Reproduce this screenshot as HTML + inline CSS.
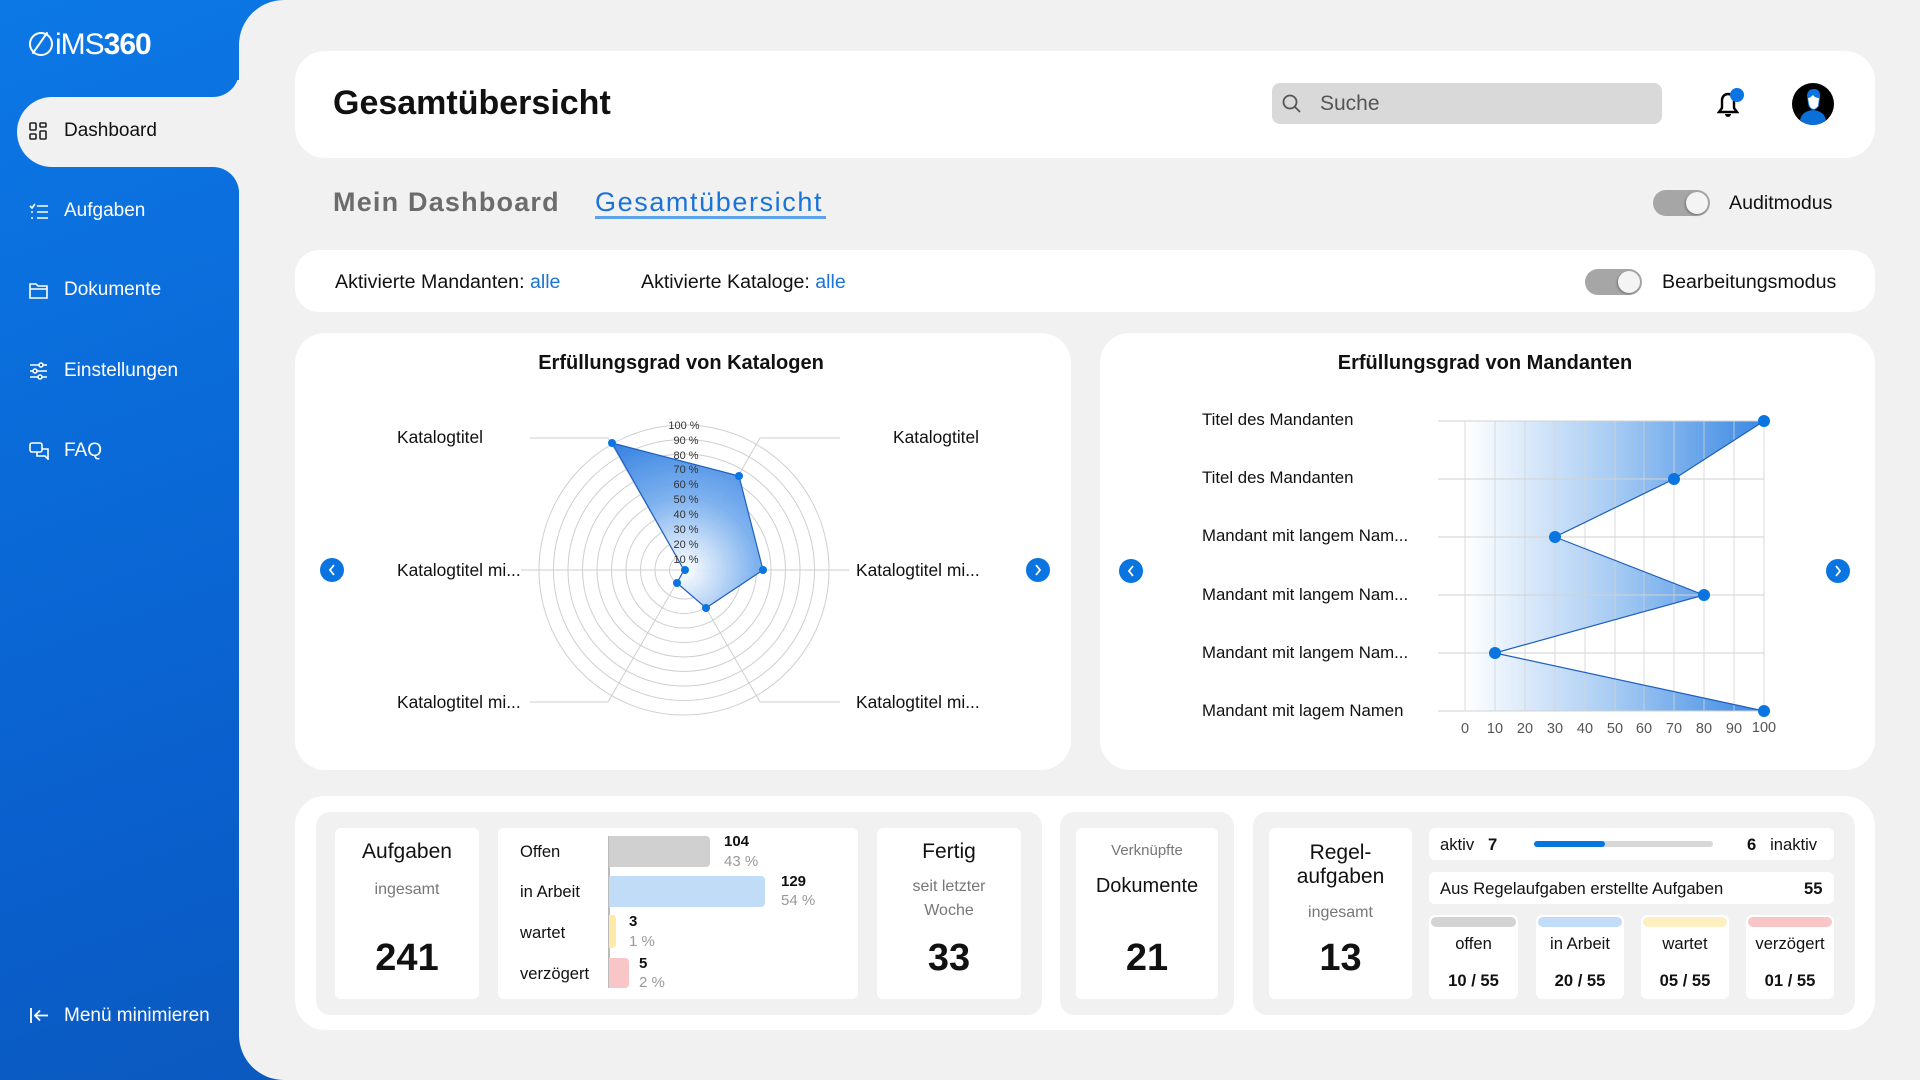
<!DOCTYPE html>
<html><head><meta charset="utf-8"><style>
*{margin:0;padding:0;box-sizing:border-box}
body{width:1920px;height:1080px;overflow:hidden;background:#f1f1f1;font-family:"Liberation Sans",sans-serif;position:relative;color:#111}
.a{position:absolute}
.blue{background:linear-gradient(160deg,#0b78e6 0%,#0a5fcc 50%,#0d4ea6 100%);background-attachment:fixed}
.card{position:absolute;background:#fff;border-radius:30px}
.nav{position:absolute;left:64px;color:#fff;font-size:19px;line-height:22px}
.ic{position:absolute;left:29px}
.t{position:absolute;white-space:nowrap}
.c{position:absolute;text-align:center;white-space:nowrap}
.wb{position:absolute;background:#fff;border-radius:6px}
.gb{position:absolute;background:#f1f1f1;border-radius:14px}
.tog{position:absolute;width:57px;height:26px;border-radius:13px;background:#a6a6a6}
.tog:after{content:"";position:absolute;right:2px;top:2px;width:22px;height:22px;border-radius:50%;background:#f4f4f4;box-shadow:-1px 1px 2px rgba(0,0,0,.3)}
</style></head><body>
<div class="a blue" style="left:0;top:0;width:300px;height:1080px"></div>
<div class="a" style="left:239px;top:0;width:1681px;height:1080px;background:#f1f1f1;border-top-left-radius:45px;border-bottom-left-radius:45px"></div>
<div class="a" style="left:200px;top:80px;width:60px;height:110px;background:#f1f1f1"></div>
<div class="a blue" style="left:0;top:0;width:239px;height:97px;border-bottom-right-radius:26px"></div>
<div class="a blue" style="left:0;top:167px;width:239px;height:913px;border-top-right-radius:26px"></div>
<div class="a" style="left:17px;top:97px;width:240px;height:70px;background:#f1f1f1;border-radius:35px 0 0 35px"></div>
<div class="t" style="left:29px;top:28px;color:#fff;font-size:30px;font-weight:bold;letter-spacing:-1px"><span style="display:inline-block;width:24px;height:24px;border:2.5px solid #fff;border-radius:50%;vertical-align:-2px;margin-right:2px;position:relative"><span style="position:absolute;left:8px;top:-4px;width:2px;height:26px;background:#fff;transform:rotate(35deg)"></span></span><span style="font-weight:normal">iMS</span>360</div>
<svg class="ic" style="top:122px" width="18" height="18" viewBox="0 0 18 18" fill="none" stroke="#222" stroke-width="1.6"><rect x="1" y="1" width="6" height="7" rx="1"/><rect x="11" y="1" width="6" height="4" rx="1"/><rect x="1" y="12" width="6" height="5" rx="1"/><rect x="11" y="9" width="6" height="8" rx="1"/></svg>
<div class="t" style="left:64px;top:120px;font-size:19px;color:#111">Dashboard</div>
<svg class="ic" style="top:203px" width="20" height="18" viewBox="0 0 20 18" fill="none" stroke="#fff" stroke-width="1.6"><path d="M1 3l2 2 3-4M8 3h11M8 9h11M8 15h11M2 9h2M2 15h2"/></svg>
<div class="nav" style="top:200px">Aufgaben</div>
<svg class="ic" style="top:282px" width="19" height="17" viewBox="0 0 19 17" fill="none" stroke="#fff" stroke-width="1.6"><path d="M1 2h6l2 2h9v12H1zM1 7h17"/></svg>
<div class="nav" style="top:279px">Dokumente</div>
<svg class="ic" style="top:362px" width="19" height="18" viewBox="0 0 19 18" fill="none" stroke="#fff" stroke-width="1.6"><path d="M1 3h17M1 9h17M1 15h17"/><circle cx="12" cy="3" r="2" fill="#0a5fcc"/><circle cx="6" cy="9" r="2" fill="#0a5fcc"/><circle cx="11" cy="15" r="2" fill="#0a5fcc"/></svg>
<div class="nav" style="top:360px">Einstellungen</div>
<svg class="ic" style="top:442px" width="21" height="18" viewBox="0 0 21 18" fill="none" stroke="#fff" stroke-width="1.6"><rect x="1" y="1" width="12" height="9" rx="2"/><path d="M8 10v4h8l3 3v-10h-6"/></svg>
<div class="nav" style="top:440px">FAQ</div>
<svg class="ic" style="top:1007px" width="20" height="17" viewBox="0 0 20 17" fill="none" stroke="#fff" stroke-width="1.8"><path d="M2 1v15M19 8.5H6M11 3.5l-5 5 5 5"/></svg>
<div class="nav" style="top:1005px">Menü minimieren</div>

<div class="card" style="left:295px;top:51px;width:1580px;height:107px"></div>
<div class="t" style="left:333px;top:84px;font-size:34px;font-weight:bold">Gesamtübersicht</div>
<div class="a" style="left:1272px;top:83px;width:390px;height:41px;background:#d9d9d9;border-radius:8px"></div>
<svg class="a" style="left:1282px;top:94px" width="20" height="20" viewBox="0 0 20 20" fill="none" stroke="#555" stroke-width="1.8"><circle cx="8" cy="8" r="6.5"/><path d="M13 13l5 5"/></svg>
<div class="t" style="left:1320px;top:92px;font-size:21px;color:#555">Suche</div>
<svg class="a" style="left:1711px;top:86px" width="36" height="36" viewBox="0 0 36 36"><path d="M8 26h18l-3-4v-8a6 6 0 0 0-12 0v8z" fill="none" stroke="#000" stroke-width="2.4"/><path d="M14 28a3 3 0 0 0 6 0z" fill="#000"/><circle cx="26" cy="9" r="7" fill="#0a74e0"/></svg>
<svg class="a" style="left:1792px;top:83px" width="42" height="42" viewBox="0 0 42 42"><circle cx="21" cy="21" r="21" fill="#000"/><path d="M8 37q2-9 13-10q11 1 13 10q-6 5-13 5q-7 0-13-5z" fill="#0a6fd8"/><path d="M15 12q1-6 7-6q7 0 6 9l-1 8q-3 4-6 4q-4-1-5-6z" fill="#0a74e0"/><path d="M16 15q2 0 5-3q2 3 6 3l-1 8q-2 3-5 3q-3-1-4-5z" fill="#fff"/></svg>

<div class="t" style="left:333px;top:187px;font-size:27px;color:#555;letter-spacing:1.2px;font-weight:bold;opacity:.85">Mein Dashboard</div>
<div class="t" style="left:595px;top:187px;font-size:27px;color:#1a73d9;letter-spacing:1.6px">Gesamtübersicht</div>
<div class="a" style="left:595px;top:216px;width:231px;height:3px;background:#5ea2ea"></div>
<div class="tog" style="left:1653px;top:190px"></div>
<div class="t" style="left:1729px;top:192px;font-size:19.6px">Auditmodus</div>

<div class="card" style="left:295px;top:250px;width:1580px;height:62px;border-radius:24px"></div>
<div class="t" style="left:335px;top:271px;font-size:19.6px">Aktivierte Mandanten: <span style="color:#1a73d9">alle</span></div>
<div class="t" style="left:641px;top:271px;font-size:19.6px">Aktivierte Kataloge: <span style="color:#1a73d9">alle</span></div>
<div class="tog" style="left:1585px;top:269px"></div>
<div class="t" style="left:1662px;top:271px;font-size:19.6px">Bearbeitungsmodus</div>

<div class="card" style="left:295px;top:333px;width:776px;height:437px"></div>
<div class="card" style="left:1100px;top:333px;width:775px;height:437px"></div>
<div class="c" style="left:481px;width:400px;top:352px;font-size:20px;font-weight:bold">Erfüllungsgrad von Katalogen</div>
<div class="c" style="left:1285px;width:400px;top:352px;font-size:20px;font-weight:bold">Erfüllungsgrad von Mandanten</div>

<svg class="a" style="left:0;top:0" width="1920" height="1080" font-family="Liberation Sans, sans-serif">
<defs>
<radialGradient id="rg" cx="684" cy="570" r="145" gradientUnits="userSpaceOnUse"><stop offset="0" stop-color="#fff"/><stop offset=".5" stop-color="#78aeee"/><stop offset="1" stop-color="#2a7ae0"/></radialGradient>
<linearGradient id="lg" x1="1465" y1="0" x2="1764" y2="0" gradientUnits="userSpaceOnUse"><stop offset="0" stop-color="#fff"/><stop offset=".5" stop-color="#a6cbf3"/><stop offset="1" stop-color="#3a88e3"/></linearGradient>
</defs>
<g fill="none" stroke="#cfcfcf" stroke-width="1">
<circle cx="684" cy="570" r="14.5"/><circle cx="684" cy="570" r="29"/><circle cx="684" cy="570" r="43.5"/><circle cx="684" cy="570" r="58"/><circle cx="684" cy="570" r="72.5"/><circle cx="684" cy="570" r="87"/><circle cx="684" cy="570" r="101.5"/><circle cx="684" cy="570" r="116"/><circle cx="684" cy="570" r="130.5"/><circle cx="684" cy="570" r="145"/>
<path d="M684 570L608 438H530M684 570L760 438H840M684 570H521M684 570H849M684 570L608 702H530M684 570L760 702H840"/>
</g>
<polygon points="612,443 739,476 763,570 706,608 677,583 684,570" fill="url(#rg)" fill-opacity=".95" stroke="#1f5fbf" stroke-width="1.2"/>
<g fill="#0a74e0"><circle cx="612" cy="443" r="4"/><circle cx="739" cy="476" r="4"/><circle cx="763" cy="570" r="4"/><circle cx="706" cy="608" r="4"/><circle cx="677" cy="583" r="4"/><circle cx="685" cy="570" r="4"/></g>
<g font-size="11" fill="#333" text-anchor="middle">
<text x="684" y="429">100 %</text><text x="686" y="444">90 %</text><text x="686" y="459">80 %</text><text x="686" y="473">70 %</text><text x="686" y="488">60 %</text><text x="686" y="503">50 %</text><text x="686" y="518">40 %</text><text x="686" y="533">30 %</text><text x="686" y="548">20 %</text><text x="686" y="563">10 %</text></g>
<g font-size="17.4" fill="#111">
<text x="397" y="443">Katalogtitel</text><text x="893" y="443">Katalogtitel</text>
<text x="397" y="576">Katalogtitel mi...</text><text x="856" y="576">Katalogtitel mi...</text>
<text x="397" y="708">Katalogtitel mi...</text><text x="856" y="708">Katalogtitel mi...</text></g>
<g><circle cx="332" cy="570" r="12" fill="#0a74e0"/><circle cx="1038" cy="570" r="12" fill="#0a74e0"/><circle cx="1131" cy="571" r="12" fill="#0a74e0"/><circle cx="1838" cy="571" r="12" fill="#0a74e0"/></g>
<g fill="none" stroke="#fff" stroke-width="1.8"><path d="M334 565l-4 5 4 5M1036 565l4 5-4 5M1133 566l-4 5 4 5M1836 566l4 5-4 5"/></g>
<polygon points="1465,421 1764,421 1674,479 1555,537 1704,595 1495,653 1764,711 1465,711" fill="url(#lg)"/>
<g stroke="#d2d2d2" stroke-width="1"><path d="M1438 421H1764M1438 479H1764M1438 537H1764M1438 595H1764M1438 653H1764M1438 711H1764"/>
<path d="M1465 421V711M1495 421V711M1525 421V711M1555 421V711M1585 421V711M1615 421V711M1644 421V711M1674 421V711M1704 421V711M1734 421V711M1764 421V711" stroke-opacity=".8"/></g>
<polyline points="1764,421 1674,479 1555,537 1704,595 1495,653 1764,711" fill="none" stroke="#1f5fbf" stroke-width="1.2"/>
<g fill="#0a74e0"><circle cx="1764" cy="421" r="6"/><circle cx="1674" cy="479" r="6"/><circle cx="1555" cy="537" r="6"/><circle cx="1704" cy="595" r="6"/><circle cx="1495" cy="653" r="6"/><circle cx="1764" cy="711" r="6"/></g>
<g font-size="16.8" fill="#111"><text x="1202" y="425">Titel des Mandanten</text><text x="1202" y="483">Titel des Mandanten</text><text x="1202" y="541">Mandant mit langem Nam...</text><text x="1202" y="600">Mandant mit langem Nam...</text><text x="1202" y="658">Mandant mit langem Nam...</text><text x="1202" y="716">Mandant mit lagem Namen</text></g>
<g font-size="14.5" fill="#555" text-anchor="middle"><text x="1465" y="733">0</text><text x="1495" y="733">10</text><text x="1525" y="733">20</text><text x="1555" y="733">30</text><text x="1585" y="733">40</text><text x="1615" y="733">50</text><text x="1644" y="733">60</text><text x="1674" y="733">70</text><text x="1704" y="733">80</text><text x="1734" y="733">90</text><text x="1764" y="732">100</text></g>
</svg>

<div class="card" style="left:295px;top:796px;width:1580px;height:234px"></div>
<div class="gb" style="left:316px;top:812px;width:726px;height:203px"></div>
<div class="gb" style="left:1060px;top:812px;width:174px;height:203px"></div>
<div class="gb" style="left:1253px;top:812px;width:602px;height:203px"></div>
<div class="wb" style="left:335px;top:828px;width:144px;height:171px"></div>
<div class="wb" style="left:498px;top:828px;width:360px;height:171px"></div>
<div class="wb" style="left:877px;top:828px;width:144px;height:171px"></div>
<div class="wb" style="left:1076px;top:828px;width:142px;height:171px"></div>
<div class="wb" style="left:1269px;top:828px;width:143px;height:171px"></div>
<div class="wb" style="left:1429px;top:828px;width:405px;height:32px"></div>
<div class="wb" style="left:1429px;top:872px;width:405px;height:32px"></div>
<div class="wb" style="left:1429px;top:915px;width:89px;height:84px"></div>
<div class="wb" style="left:1536px;top:915px;width:88px;height:84px"></div>
<div class="wb" style="left:1641px;top:915px;width:88px;height:84px"></div>
<div class="wb" style="left:1746px;top:915px;width:88px;height:84px"></div>

<div class="c" style="left:335px;width:144px;top:840px;font-size:21px">Aufgaben</div>
<div class="c" style="left:335px;width:144px;top:881px;font-size:16px;color:#777">ingesamt</div>
<div class="c" style="left:335px;width:144px;top:937px;font-size:38px;font-weight:bold">241</div>

<div class="a" style="left:608px;top:836px;width:2px;height:152px;background:#bbb"></div>
<div class="a" style="left:609px;top:836px;width:101px;height:31px;background:#d0d0d0;border-radius:0 4px 4px 0"></div>
<div class="a" style="left:609px;top:876px;width:156px;height:31px;background:#c1dcf7;border-radius:0 4px 4px 0"></div>
<div class="a" style="left:609px;top:915px;width:7px;height:33px;background:#fde9a8;border-radius:0 4px 4px 0"></div>
<div class="a" style="left:609px;top:958px;width:20px;height:30px;background:#f8c6c6;border-radius:0 4px 4px 0"></div>
<div class="t" style="left:520px;top:842px;font-size:16.6px">Offen</div>
<div class="t" style="left:520px;top:882px;font-size:16.6px">in Arbeit</div>
<div class="t" style="left:520px;top:923px;font-size:16.6px">wartet</div>
<div class="t" style="left:520px;top:964px;font-size:16.6px">verzögert</div>
<div class="t" style="left:724px;top:833px;font-size:15px;font-weight:bold">104</div>
<div class="t" style="left:724px;top:853px;font-size:15px;color:#999">43 %</div>
<div class="t" style="left:781px;top:873px;font-size:15px;font-weight:bold">129</div>
<div class="t" style="left:781px;top:892px;font-size:15px;color:#999">54 %</div>
<div class="t" style="left:629px;top:913px;font-size:15px;font-weight:bold">3</div>
<div class="t" style="left:629px;top:933px;font-size:15px;color:#999">1 %</div>
<div class="t" style="left:639px;top:955px;font-size:15px;font-weight:bold">5</div>
<div class="t" style="left:639px;top:974px;font-size:15px;color:#999">2 %</div>

<div class="c" style="left:877px;width:144px;top:840px;font-size:21px">Fertig</div>
<div class="c" style="left:877px;width:144px;top:878px;font-size:16px;color:#777">seit letzter</div>
<div class="c" style="left:877px;width:144px;top:902px;font-size:16px;color:#777">Woche</div>
<div class="c" style="left:877px;width:144px;top:937px;font-size:38px;font-weight:bold">33</div>

<div class="c" style="left:1076px;width:142px;top:842px;font-size:15px;color:#777">Verknüpfte</div>
<div class="c" style="left:1076px;width:142px;top:875px;font-size:20px">Dokumente</div>
<div class="c" style="left:1076px;width:142px;top:937px;font-size:38px;font-weight:bold">21</div>

<div class="c" style="left:1269px;width:143px;top:841px;font-size:21px;line-height:24px">Regel-<br>aufgaben</div>
<div class="c" style="left:1269px;width:143px;top:904px;font-size:16px;color:#777">ingesamt</div>
<div class="c" style="left:1269px;width:143px;top:937px;font-size:38px;font-weight:bold">13</div>

<div class="t" style="left:1440px;top:835px;font-size:16.6px">aktiv &nbsp;&nbsp;<b>7</b></div>
<div class="a" style="left:1534px;top:841px;width:179px;height:6px;background:#d8d8d8;border-radius:3px"></div>
<div class="a" style="left:1534px;top:841px;width:71px;height:6px;background:#0a74e0;border-radius:3px"></div>
<div class="t" style="left:1747px;top:835px;font-size:16.6px"><b>6</b> &nbsp;&nbsp;inaktiv</div>
<div class="t" style="left:1440px;top:879px;font-size:16.6px">Aus Regelaufgaben erstellte Aufgaben</div>
<div class="t" style="left:1804px;top:879px;font-size:16.6px;font-weight:bold">55</div>

<div class="a" style="left:1431px;top:917px;width:85px;height:10px;background:#d3d3d3;border-radius:5px"></div>
<div class="a" style="left:1538px;top:917px;width:84px;height:10px;background:#c1dcf7;border-radius:5px"></div>
<div class="a" style="left:1643px;top:917px;width:84px;height:10px;background:#fdefc0;border-radius:5px"></div>
<div class="a" style="left:1748px;top:917px;width:84px;height:10px;background:#f8c6c6;border-radius:5px"></div>
<div class="c" style="left:1429px;width:89px;top:934px;font-size:16.6px">offen</div>
<div class="c" style="left:1536px;width:88px;top:934px;font-size:16.6px">in Arbeit</div>
<div class="c" style="left:1641px;width:88px;top:934px;font-size:16.6px">wartet</div>
<div class="c" style="left:1746px;width:88px;top:934px;font-size:16.6px">verzögert</div>
<div class="c" style="left:1429px;width:89px;top:971px;font-size:16.6px;font-weight:bold">10 / 55</div>
<div class="c" style="left:1536px;width:88px;top:971px;font-size:16.6px;font-weight:bold">20 / 55</div>
<div class="c" style="left:1641px;width:88px;top:971px;font-size:16.6px;font-weight:bold">05 / 55</div>
<div class="c" style="left:1746px;width:88px;top:971px;font-size:16.6px;font-weight:bold">01 / 55</div>
</body></html>
